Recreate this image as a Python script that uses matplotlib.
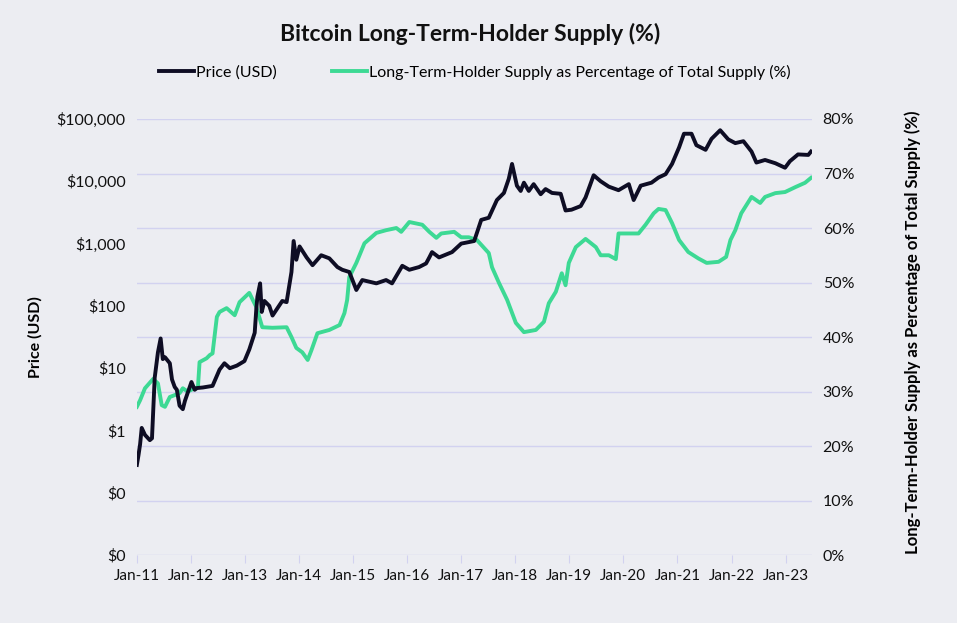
import matplotlib.pyplot as plt
from matplotlib.ticker import FixedLocator, FixedFormatter

plt.rcParams['font.family'] = ['Lato', 'DejaVu Sans']

# price (USD), date as decimal year
price_t = [2011.00, 2011.03, 2011.06, 2011.09, 2011.15, 2011.24, 2011.28, 2011.33, 2011.39,
           2011.44, 2011.48, 2011.52, 2011.61, 2011.65, 2011.70, 2011.74, 2011.79, 2011.85,
           2011.89, 2012.01, 2012.07, 2012.11, 2012.22, 2012.40, 2012.53, 2012.62, 2012.72,
           2012.85, 2012.99, 2013.08, 2013.18, 2013.21, 2013.23, 2013.28, 2013.31, 2013.36,
           2013.45, 2013.51, 2013.69, 2013.77, 2013.86, 2013.90, 2013.95, 2014.01, 2014.14,
           2014.25, 2014.41, 2014.56, 2014.71, 2014.80, 2014.93, 2015.06, 2015.17, 2015.43,
           2015.61, 2015.72, 2015.91, 2016.04, 2016.22, 2016.35, 2016.41, 2016.46, 2016.59,
           2016.83, 2017.00, 2017.24, 2017.37, 2017.51, 2017.66, 2017.79, 2017.88, 2017.94,
           2018.03, 2018.10, 2018.16, 2018.25, 2018.34, 2018.47, 2018.56, 2018.68, 2018.84,
           2018.93, 2019.04, 2019.21, 2019.30, 2019.45, 2019.58, 2019.73, 2019.91, 2020.10,
           2020.19, 2020.32, 2020.52, 2020.65, 2020.78, 2020.90, 2021.03, 2021.12, 2021.26,
           2021.35, 2021.52, 2021.63, 2021.79, 2021.94, 2022.07, 2022.22, 2022.37, 2022.46,
           2022.62, 2022.81, 2022.99, 2023.08, 2023.23, 2023.42, 2023.47]
price = [0.28, 0.40, 0.60, 1.10, 0.85, 0.70, 0.75, 7.0, 18.0,
         30.0, 14.0, 15.0, 12.0, 6.6, 5.0, 4.5, 2.5, 2.2,
         3.0, 6.0, 4.5, 4.8, 4.9, 5.2, 9.5, 12.0, 10.0,
         11.0, 13.0, 20.0, 37.0, 90.0, 140.0, 230.0, 80.0, 120.0,
         100.0, 70.0, 120.0, 115.0, 350.0, 1100.0, 550.0, 900.0, 600.0,
         450.0, 650.0, 580.0, 420.0, 380.0, 350.0, 180.0, 260.0, 230.0,
         260.0, 230.0, 440.0, 380.0, 420.0, 480.0, 600.0, 730.0, 600.0,
         730.0, 1000.0, 1100.0, 2400.0, 2600.0, 5000.0, 6500.0, 11000.0, 19000.0,
         8500.0, 7000.0, 9500.0, 7000.0, 9000.0, 6200.0, 7500.0, 6500.0, 6300.0,
         3400.0, 3500.0, 4000.0, 5500.0, 12500.0, 10000.0, 8200.0, 7200.0, 9000.0,
         5000.0, 8500.0, 9500.0, 11500.0, 13000.0, 19000.0, 35000.0, 58000.0, 58000.0,
         38000.0, 32000.0, 48000.0, 66000.0, 47000.0, 41000.0, 44000.0, 30000.0, 20000.0,
         22000.0, 19500.0, 16500.0, 21000.0, 27000.0, 26500.0, 30000.0]

# long-term-holder supply share (%)
lth_t = [2011.00, 2011.06, 2011.15, 2011.30, 2011.39, 2011.46, 2011.52, 2011.61, 2011.79,
         2011.85, 2011.94, 2012.07, 2012.13, 2012.16, 2012.29, 2012.35, 2012.40, 2012.48,
         2012.53, 2012.66, 2012.81, 2012.90, 2013.08, 2013.21, 2013.32, 2013.51, 2013.77,
         2013.86, 2013.95, 2014.06, 2014.16, 2014.23, 2014.34, 2014.56, 2014.75, 2014.84,
         2014.89, 2014.93, 2015.06, 2015.21, 2015.43, 2015.61, 2015.80, 2015.89, 2016.04,
         2016.28, 2016.41, 2016.54, 2016.63, 2016.87, 2017.00, 2017.14, 2017.29, 2017.51,
         2017.57, 2017.70, 2017.85, 2018.01, 2018.16, 2018.38, 2018.53, 2018.62, 2018.75,
         2018.86, 2018.93, 2018.99, 2019.12, 2019.30, 2019.49, 2019.58, 2019.73, 2019.86,
         2019.91, 2020.10, 2020.28, 2020.41, 2020.56, 2020.65, 2020.78, 2020.90, 2021.03,
         2021.20, 2021.39, 2021.54, 2021.76, 2021.90, 2021.98, 2022.07, 2022.18, 2022.37,
         2022.53, 2022.62, 2022.81, 2022.99, 2023.18, 2023.36, 2023.47]
lth = [27.2, 28.4, 30.6, 32.3, 31.5, 27.5, 27.2, 29.0, 29.7,
       30.6, 30.0, 30.6, 30.8, 35.4, 36.1, 36.7, 37.0, 43.7,
       44.6, 45.3, 44.0, 46.4, 48.1, 45.5, 41.8, 41.7, 41.8,
       40.0, 38.0, 37.2, 35.8, 37.6, 40.7, 41.3, 42.2, 44.4,
       46.8, 51.0, 53.6, 57.2, 59.1, 59.6, 60.0, 59.3, 61.1,
       60.6, 59.3, 58.2, 59.0, 59.3, 58.3, 58.3, 57.8, 55.4,
       52.8, 49.9, 46.8, 42.6, 40.9, 41.3, 42.8, 46.2, 48.3,
       51.7, 49.5, 53.6, 56.5, 58.0, 56.5, 55.0, 55.0, 54.3,
       59.0, 59.0, 59.0, 60.6, 62.7, 63.5, 63.3, 60.9, 57.8,
       55.6, 54.4, 53.6, 53.8, 54.7, 57.8, 59.6, 62.7, 65.7,
       64.6, 65.7, 66.4, 66.6, 67.5, 68.3, 69.2]

years = list(range(2011, 2024))
year_labels = ['Jan-%02d' % (y % 100) for y in years]
price_ticks = [0.01, 0.1, 1, 10, 100, 1000, 10000, 100000]
price_labels = ['$0', '$0', '$1', '$10', '$100', '$1,000', '$10,000', '$100,000']

bg = '#ECEDF2'
grid = '#D2D2F0'
dark = '#0E0D24'
green = '#3DD994'

fig = plt.figure(figsize=(9.57, 6.23), dpi=100, facecolor=bg)
ax = fig.add_axes([0.143, 0.109, 0.705, 0.700], facecolor=bg)
ax2 = ax.twinx()

ax.set_yscale('log')
ax.set_ylim(0.01, 100000)
ax.yaxis.set_major_locator(FixedLocator(price_ticks))
ax.yaxis.set_major_formatter(FixedFormatter(price_labels))
ax.yaxis.set_minor_locator(FixedLocator([]))

ax2.set_ylim(0, 80)
ax2.set_yticks(range(0, 81, 10))
ax2.set_yticklabels(['%d%%' % v for v in range(0, 81, 10)])

ax.set_xlim(2011, 2023.48)
ax.set_xticks(years)
ax.set_xticklabels(year_labels)

l2, = ax2.plot(lth_t, lth, color=green, lw=2.8, solid_joinstyle='round')
l1, = ax.plot(price_t, price, color=dark, lw=2.8, solid_joinstyle='round')
# price line on top, gridlines from the right axis behind both
ax.set_zorder(ax2.get_zorder() + 1)
ax.patch.set_visible(False)
ax2.patch.set_facecolor(bg)
ax2.grid(axis='y', color=grid, lw=1)
ax2.set_axisbelow(True)

for a in (ax, ax2):
    for s in a.spines.values():
        s.set_visible(False)
    a.tick_params(axis='y', length=0, labelsize=11.5, colors='#111111', pad=8)
ax.tick_params(axis='x', length=6, labelsize=11, colors='#111111', pad=4)
ax.xaxis.set_tick_params(color=grid)

ax.set_ylabel('Price (USD)', fontsize=11.5, fontweight='bold')
ax.yaxis.set_label_coords(-0.14, 0.5)
ax2.set_ylabel('Long-Term-Holder Supply as Percentage of Total Supply (%)',
               fontsize=12, fontweight='bold')
ax2.yaxis.set_label_coords(1.138, 0.51)

fig.text(0.491, 0.945, 'Bitcoin Long-Term-Holder Supply (%)', ha='center', va='center',
         fontsize=16.5, fontweight='bold', color='#111111')
fig.legend([l1, l2], ['Price (USD)', 'Long-Term-Holder Supply as Percentage of Total Supply (%)'],
           loc='center', bbox_to_anchor=(0.496, 0.884), ncol=2, frameon=False,
           fontsize=11.5, handlelength=2.2, handletextpad=0.1, columnspacing=3.5)

fig.savefig('out.png', dpi=100, facecolor=bg)
